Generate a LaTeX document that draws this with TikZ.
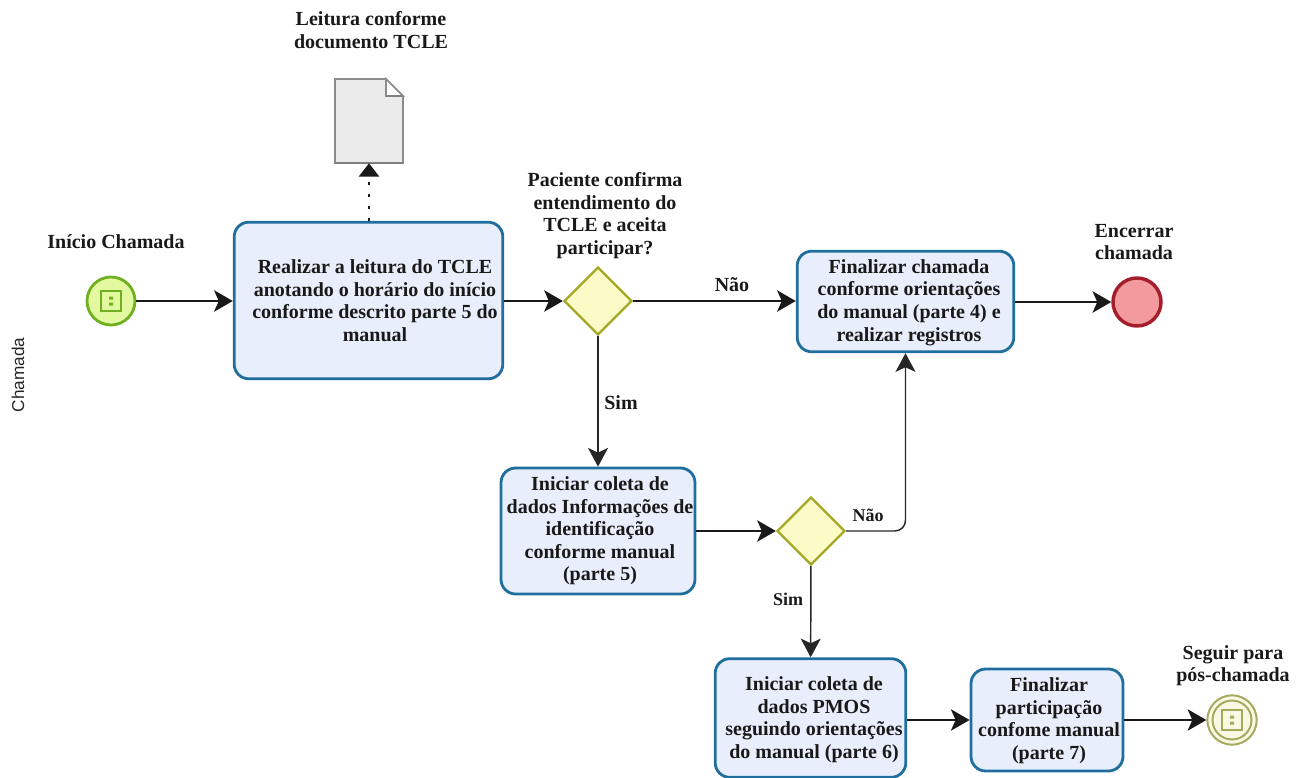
\documentclass[tikz,border=0pt]{standalone}
\usepackage{fontspec}
\setmainfont{Liberation Serif}
\usetikzlibrary{shapes.geometric,arrows.meta}
\definecolor{taskb}{HTML}{1F6E9E}
\definecolor{taskf}{HTML}{E8EEFB}
\definecolor{gateb}{HTML}{A5A825}
\definecolor{gatef}{HTML}{FBFBC8}
\definecolor{startb}{HTML}{6FB021}
\definecolor{startf}{HTML}{E3F9A0}
\definecolor{endb}{HTML}{A51E2D}
\definecolor{endf}{HTML}{F29A9E}
\definecolor{linkb}{HTML}{A8A860}
\definecolor{linkf}{HTML}{FAFAE4}
\tikzset{
  px/.style={x=0.75pt,y=-0.75pt},
  lbl/.style={font=\bfseries\fontsize{15pt}{16.9pt}\selectfont,align=center,text=black!90,inner sep=0pt},
  small lbl/.style={lbl,font=\bfseries\fontsize{13.5pt}{16.9pt}\selectfont},
  task/.style={draw=taskb,fill=taskf,line width=2.1pt,rounded corners=11pt,inner sep=0pt,anchor=center},
  gate/.style={diamond,aspect=1,draw=gateb,fill=gatef,line width=1.7pt,minimum size=51pt,inner sep=0pt},
  evstart/.style={circle,draw=startb,fill=startf,line width=2.1pt,minimum size=36pt,inner sep=0pt},
  evend/.style={circle,draw=endb,fill=endf,line width=2.6pt,minimum size=36pt,inner sep=0pt},
  evlink/.style={circle,draw=linkb,fill=linkf,line width=1.5pt,minimum size=37pt,inner sep=0pt},
  flow/.style={draw=black!90,line width=1.8pt,-{Stealth[length=14pt,width=16pt,inset=3.5pt]}},
  thin flow/.style={draw=black!85,line width=1.1pt,-{Stealth[length=14pt,width=15pt,inset=3.5pt]},rounded corners=8pt},
}
\begin{document}
\begin{tikzpicture}[px]
\useasboundingbox (0,0) rectangle (1296,778);
% nodes
\node[evstart] (start) at (111,301) {};
\draw[startb,line width=1.5pt] (101,291) rectangle (121,311);
\fill[startb] (109,296.5) rectangle (113,299.5) (109,302.5) rectangle (113,305.5);
\node[lbl] (lstart) at (116,242) {Início Chamada};

\node[task,minimum width=201.5pt,minimum height=117.5pt] (read) at (368.5,300.5) {};
\node[lbl] (readt) at (375,300.5) {Realizar a leitura do TCLE\\anotando o horário do início\\conforme descrito parte 5 do\\manual};

% document
\node[inner sep=0pt,minimum width=51pt,minimum height=63pt] (doc) at (369,121) {};
\draw[draw=black!45,fill=black!8,line width=1.3pt] (335,79) -- (386,79) -- (403,96) -- (403,163) -- (335,163) -- cycle;
\draw[draw=black!45,fill=white,line width=1.3pt] (386,79) -- (386,96) -- (403,96) -- cycle;
\draw[black!50,line width=2.2pt] (335,163) -- (403,163);
\draw[black!50,line width=2pt] (386,96) -- (403,96);
\node[lbl] (ldoc) at (371,30) {Leitura conforme\\documento TCLE};

\node[gate] (g1) at (598,301) {};
\node[lbl] (lg1) at (605,215.5) {Paciente confirma\\entendimento do\\TCLE e aceita\\participar?};

\node[task,minimum width=162.5pt,minimum height=75.5pt] (fin) at (905.5,301.5) {};
\node[lbl] (fint) at (909,302.5) {Finalizar chamada\\conforme orientações\\do manual (parte 4) e\\realizar registros};

\node[evend] (end) at (1137,302) {};
\node[lbl] (lend) at (1134,242) {Encerrar\\chamada};

\node[task,minimum width=145.5pt,minimum height=94.5pt] (col) at (598,531) {};
\node[lbl] (colt) at (600,531) {Iniciar coleta de\\dados Informações de\\identificação\\conforme manual\\(parte 5)};

\node[gate] (g2) at (811,531) {};

\node[task,minimum width=143pt,minimum height=89pt] (pmos) at (810.5,718) {};
\node[lbl] (pmost) at (814,719.5) {Iniciar coleta de\\dados PMOS\\seguindo orientações\\do manual (parte 6)};

\node[task,minimum width=114pt,minimum height=76.5pt] (part) at (1047,720) {};
\node[lbl] (partt) at (1049,720.5) {Finalizar\\participação\\confome manual\\(parte 7)};

\node[evlink] (link) at (1232,720) {};
\draw[linkb,line width=1.5pt] (1232,720) circle (19.5);
\draw[linkb,line width=1.6pt] (1222,710) rectangle (1242,730);
\fill[linkb] (1230,715.5) rectangle (1234,718.5) (1230,721.5) rectangle (1234,724.5);
\node[lbl] (llink) at (1233,665.5) {Seguir para\\pós-chamada};

% connectors
\draw[flow] (start) -- (read.west |- start);
\draw[flow] (read.east |- g1) -- (g1);
\draw[flow] (g1) -- (fin.west |- g1);
\draw[flow] (fin.east |- end) -- (end);
\draw[thin flow] (g1) -- (col);
\draw[flow] (col) -- (g2);
\draw[thin flow] (g2) -- (pmos);
\draw[thin flow] (g2.east) -| (fin.south);
\draw[flow] (pmos.east |- part) -- (part);
\draw[flow] (part) -- (link);
\draw[line width=1.9pt,black!90,dash pattern=on 2pt off 7pt,-{Stealth[length=10pt,width=15pt,inset=0pt]}] (read.north -| doc) -- (doc.south);

% edge labels
\node[lbl] (nao1) at (732,285) {Não};
\node[lbl] (sim1) at (621,403) {Sim};
\node[small lbl] (nao2) at (868,515) {Não};
\node[small lbl] (sim2) at (788,599) {Sim};
\node[font=\fontsize{12.9pt}{14pt}\selectfont\fontspec{Liberation Sans},rotate=90,text=black!85,inner sep=0pt] (lane) at (18,375) {Chamada};
\end{tikzpicture}
\end{document}
